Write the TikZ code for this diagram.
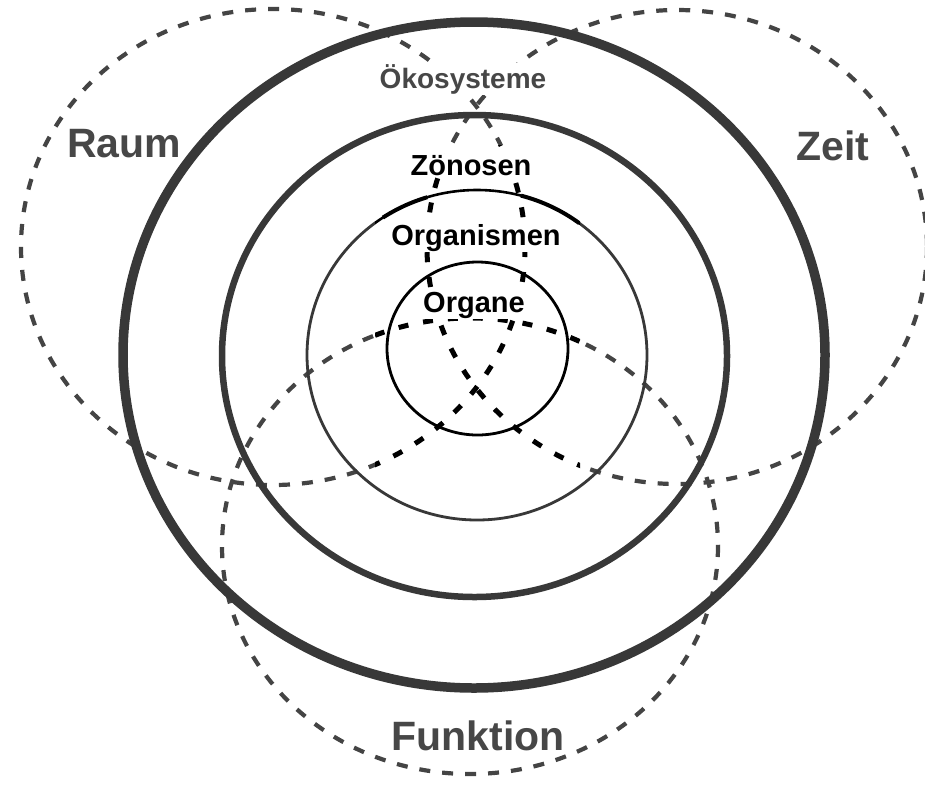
\documentclass[tikz,border=0pt]{standalone}
\usepackage{fontspec}
\setmainfont{Liberation Sans}
\definecolor{ringgray}{HTML}{383838}
\definecolor{dashgray}{HTML}{444444}
\definecolor{labelgray}{HTML}{474747}
\begin{document}
\begin{tikzpicture}[x=1pt,y=-1pt,
  ring/.style={draw=ringgray},
  grayDash/.style={draw=dashgray, line width=4.2pt, dash pattern=on 11pt off 12pt},
  blackDash/.style={draw=black, line width=5pt, dash pattern=on 10pt off 15pt},
  biglabel/.style={text=labelgray, fill=white, font=\fontsize{41}{41}\selectfont\bfseries, inner sep=1pt, anchor=base},
  ecolabel/.style={text=labelgray, fill=white, font=\fontsize{28}{28}\selectfont\bfseries, inner sep=1pt, anchor=base},
  innerlabel/.style={text=black, fill=white, font=\fontsize{29}{29}\selectfont\bfseries, inner sep=1pt, anchor=base}]
\useasboundingbox (0,0) rectangle (925,793);
\fill[white] (0,0) rectangle (925,793);

% dashed ellipses: Raum, Zeit, Funktion
\draw[grayDash] (273,247) ellipse [x radius=252, y radius=238];
\draw[grayDash] (677,247) ellipse [x radius=250, y radius=237];
\draw[grayDash] (470,546) ellipse [x radius=248, y radius=228];

% concentric rings
\draw[ring, line width=9.5pt] (474,355) ellipse [x radius=351, y radius=333];
\draw[ring, line width=6.5pt] (474.5,356) ellipse [x radius=252.5, y radius=241];
\draw[ring, line width=2.8pt] (477,355) ellipse [x radius=170, y radius=165];

% inner patch drawn in black
\fill[white] (375,145) rectangle (580,472);
\begin{scope}
  \clip (375,145) rectangle (580,472);
  \draw[blackDash] (273,247) ellipse [x radius=252, y radius=238];
  \draw[blackDash] (677,247) ellipse [x radius=250, y radius=237];
  \draw[blackDash] (470,546) ellipse [x radius=248, y radius=228];
  \draw[black, line width=2.6pt] (477,355) ellipse [x radius=170, y radius=165];
  \draw[black, line width=4pt] ([shift={(-123.6:170 and 165)}]477,355) arc[start angle=-123.6, end angle=-107, x radius=170, y radius=165];
  \draw[black, line width=4pt] ([shift={(-75:170 and 165)}]477,355) arc[start angle=-75, end angle=-53, x radius=170, y radius=165];
\end{scope}

% Organe circle
\draw[black, line width=2.8pt] (477.5,348.5) ellipse [x radius=90.5, y radius=86.5];

% labels
\node[biglabel] (raum) at (124,157) {Raum};
\node[biglabel] (zeit) at (833,160) {Zeit};
\node[biglabel] (funktion) at (478,750) {Funktion};
\node[ecolabel] (oeko) at (463,88) {Ökosysteme};
\node[innerlabel] (zoenosen) at (471,175) {Zönosen};
\node[innerlabel] (organismen) at (476,245) {Organismen};
\node[innerlabel] (organe) at (474,312) {Organe};
\end{tikzpicture}
\end{document}
